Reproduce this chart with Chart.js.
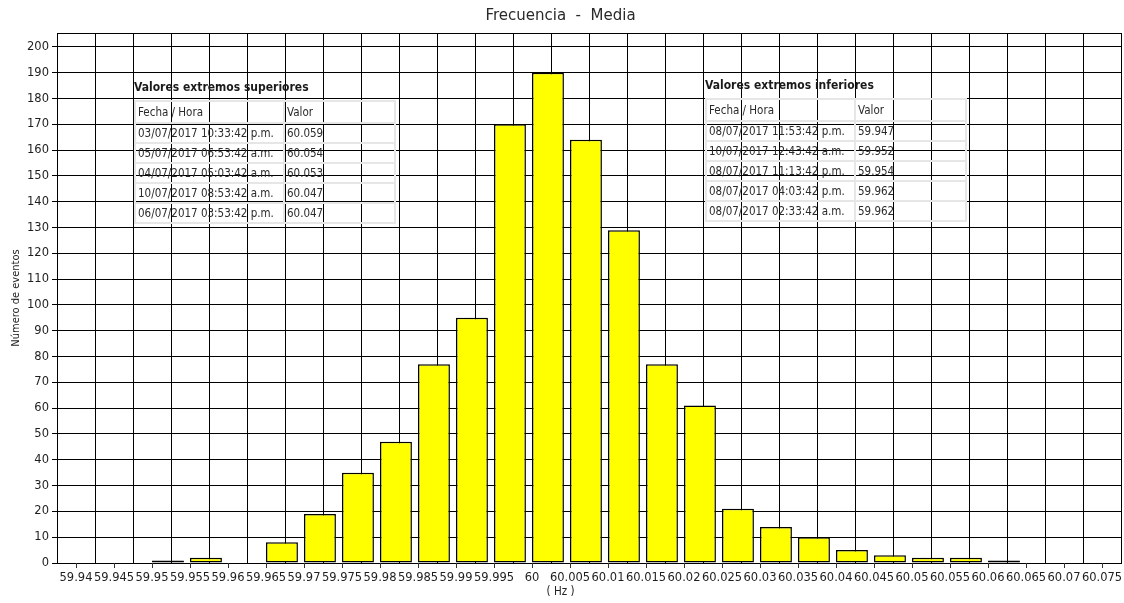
<!DOCTYPE html>
<html lang="es">
<head>
<meta charset="utf-8">
<title>Frecuencia - Media</title>
<script src="https://cdn.jsdelivr.net/npm/chart.js@4.4.1/dist/chart.umd.min.js"></script>
<style>
  html, body { margin: 0; padding: 0; background: #fff; }
  #wrap { position: relative; width: 1124px; height: 603px; }
  #chart { position: absolute; left: 0; top: 0; }
  .extremos { position: absolute; font-family: "DejaVu Sans Condensed", "DejaVu Sans", sans-serif; font-size: 11.5px; color: #2a2a2a; }
  .extremos h4 { margin: 0; font-size: 12px; font-weight: bold; color: #1a1a1a; height: 22px; line-height: 18px; white-space: nowrap; }
  .extremos table { border-collapse: collapse; border: 2px solid #d2d2d2; background: transparent; width: 262px; table-layout: fixed; }
  .extremos td { border: 2px solid #e6e6e6; padding: 0 0 0 2px; height: 18px; line-height: 18px; white-space: nowrap; overflow: visible; }
  .extremos tr.head td { height: 20px; line-height: 17px; }
  .extremos td.fecha { width: 145px; }
</style>
</head>
<body>
<div id="wrap">
  <canvas id="chart" width="1124" height="603"></canvas>
  <div class="extremos" id="sup" style="left:134px; top:78px;"></div>
  <div class="extremos" id="inf" style="left:705px; top:76px;"></div>
</div>
<script>
// Histogram bins (lower edge of each bin, Hz)
const binLabels = ['59.94', '59.945', '59.95', '59.955', '59.96', '59.965', '59.97', '59.975',
  '59.98', '59.985', '59.99', '59.995', '60', '60.005', '60.01', '60.015', '60.02', '60.025',
  '60.03', '60.035', '60.04', '60.045', '60.05', '60.055', '60.06', '60.065', '60.07', '60.075'];

// Number of events per bin
const eventCounts = [0, 0, 1, 2, 0, 8, 19, 35, 47, 77, 95, 170, 190, 164, 129, 77, 61, 21,
  14, 10, 5, 3, 2, 2, 1, 0, 0, 0];

// Y axis ticks
const yTickMax = 200;
const yTickStep = 10;

// Extreme values tables
const upperTitle = 'Valores extremos superiores';
const upperDates = ['03/07/2017 10:33:42 p.m.', '05/07/2017 06:53:42 a.m.', '04/07/2017 05:03:42 a.m.',
  '10/07/2017 08:53:42 a.m.', '06/07/2017 03:53:42 p.m.'];
const upperValues = ['60.059', '60.054', '60.053', '60.047', '60.047'];

const lowerTitle = 'Valores extremos inferiores';
const lowerDates = ['08/07/2017 11:53:42 p.m.', '10/07/2017 12:43:42 a.m.', '08/07/2017 11:13:42 p.m.',
  '08/07/2017 04:03:42 p.m.', '08/07/2017 02:33:42 a.m.'];
const lowerValues = ['59.947', '59.952', '59.954', '59.962', '59.962'];

function buildTable(el, title, dates, values) {
  const h = document.createElement('h4');
  h.textContent = title;
  el.appendChild(h);
  const t = document.createElement('table');
  const head = t.insertRow();
  head.className = 'head';
  const c1 = head.insertCell(); c1.className = 'fecha'; c1.textContent = 'Fecha / Hora';
  const c2 = head.insertCell(); c2.textContent = 'Valor';
  dates.forEach((d, i) => {
    const r = t.insertRow();
    const a = r.insertCell(); a.className = 'fecha'; a.textContent = d;
    const b = r.insertCell(); b.textContent = values[i];
  });
  el.appendChild(t);
}
buildTable(document.getElementById('sup'), upperTitle, upperDates, upperValues);
buildTable(document.getElementById('inf'), lowerTitle, lowerDates, lowerValues);

// Each bar starts at its bin's tick and extends to the right
const binAlign = {
  id: 'binAlign',
  afterDatasetsUpdate(chart) {
    chart.getDatasetMeta(0).data.forEach(bar => { bar.x += bar.width / 2; });
  }
};

// Frame on top and tick marks under the category labels
const frame = {
  id: 'frame',
  afterDraw(chart) {
    const { ctx, chartArea } = chart;
    const x = chart.scales.x;
    ctx.save();
    ctx.strokeStyle = '#000';
    ctx.lineWidth = 1;
    ctx.beginPath();
    ctx.moveTo(chartArea.left, Math.round(chartArea.top) + 0.5);
    ctx.lineTo(chartArea.right, Math.round(chartArea.top) + 0.5);
    ctx.stroke();
    ctx.strokeStyle = '#333';
    ctx.beginPath();
    x.ticks.forEach((t, i) => {
      const px = Math.round(x.getPixelForTick(i)) + 0.5;
      ctx.moveTo(px, chartArea.bottom);
      ctx.lineTo(px, chartArea.bottom + 5);
    });
    ctx.stroke();
    ctx.restore();
  }
};

new Chart(document.getElementById('chart'), {
  type: 'bar',
  data: {
    labels: binLabels,
    datasets: [{
      data: eventCounts,
      backgroundColor: '#ffff00',
      borderColor: '#000',
      borderWidth: 1.5,
      borderSkipped: false,
      barPercentage: 0.84,
      categoryPercentage: 1
    }]
  },
  options: {
    responsive: false,
    animation: false,
    events: [],
    layout: { padding: { left: 0, right: 3, top: 0, bottom: 0 } },
    plugins: {
      legend: { display: false },
      tooltip: { enabled: false },
      title: {
        display: true,
        text: 'Frecuencia  -  Media',
        color: '#2a2a2a',
        font: { family: '"DejaVu Sans", sans-serif', size: 15, weight: 'normal' },
        padding: { top: 7, bottom: 8 }
      },
      // unit caption under the frequency axis
      subtitle: {
        display: true,
        position: 'bottom',
        text: '( Hz )',
        color: '#222',
        font: { family: '"DejaVu Sans Condensed", "DejaVu Sans", sans-serif', size: 11.5, weight: 'normal' },
        padding: { top: 0, bottom: 4 }
      }
    },
    scales: {
      x: {
        type: 'category',
        offset: true,
        grid: { offset: true, color: '#000', lineWidth: 1, drawTicks: false },
        border: { color: '#000' },
        ticks: {
          autoSkip: false, maxRotation: 0, minRotation: 0, padding: 8, color: '#1e1e1e',
          font: { family: '"DejaVu Sans", sans-serif', size: 11.5 }
        },
        afterFit(scale) {
          scale.height = 22.2;
          // labels may run to the canvas edge; keep the plot width fixed
          scale.paddingLeft = 0;
          scale.paddingRight = 0;
        }
      },
      y: {
        min: 0,
        max: 205.4,
        grid: { color: '#000', lineWidth: 1, tickLength: 5 },
        border: { color: '#000' },
        ticks: {
          stepSize: yTickStep,
          includeBounds: false,
          padding: 3,
          color: '#1e1e1e',
          font: { family: '"DejaVu Sans", sans-serif', size: 11.5 },
          callback: v => (v <= yTickMax ? v : null)
        },
        title: {
          display: true,
          text: 'Número de eventos',
          color: '#222',
          font: { family: '"DejaVu Sans Condensed", "DejaVu Sans", sans-serif', size: 11 },
          padding: { top: 10, bottom: 0 }
        },
        afterFit(scale) { scale.width = 57; }
      }
    }
  },
  plugins: [binAlign, frame]
});
</script>
</body>
</html>
